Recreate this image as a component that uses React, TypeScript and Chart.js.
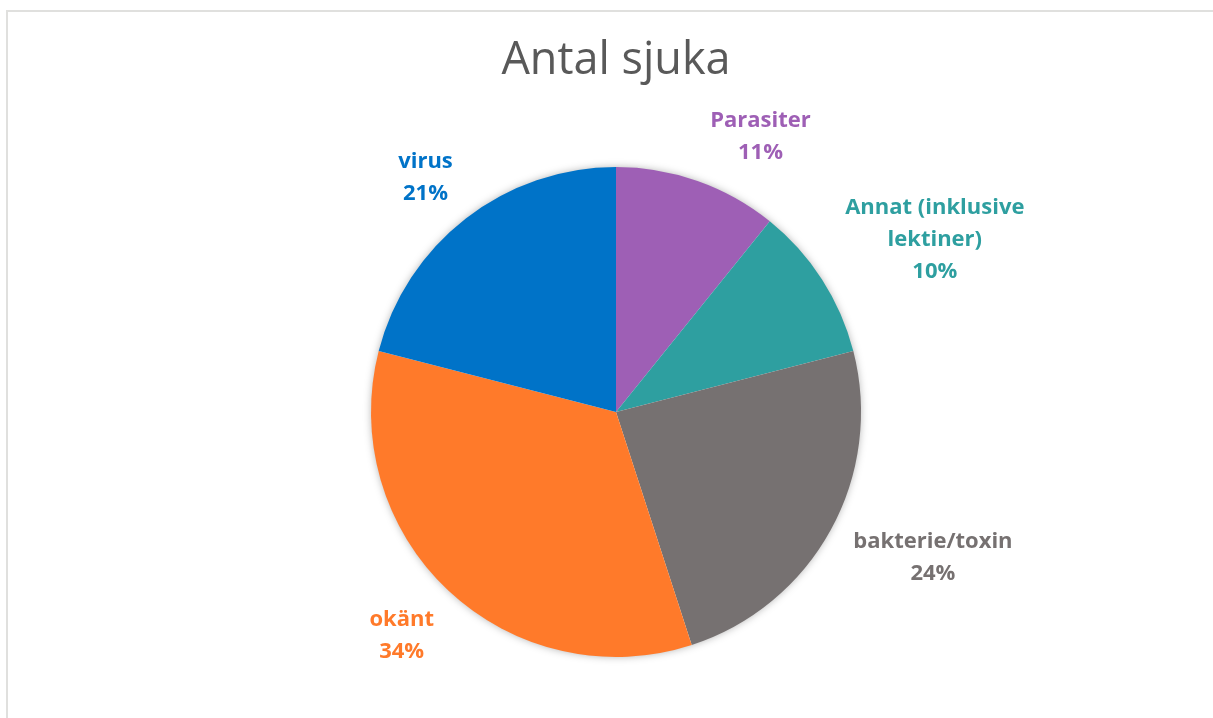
import React, { useEffect, useRef } from "react";
import { Chart, registerables } from "chart.js";

Chart.register(...registerables);

const categories = ["Parasiter", "Annat (inklusive lektiner)", "bakterie/toxin", "okänt", "virus"];
const shares = [10.8, 10.2, 24, 34, 21];
const sliceColors = ["#9E5FB5", "#2E9FA0", "#767171", "#FF7A2A", "#0073C8"];
const labelAngleNudgeDeg = [8, 4, -4.5, 1, -1];

const TITLE = "Antal sjuka";
const LABEL_FONT = 'bold 22px "Open Sans"';
const LINE_H = 32;
const LABEL_GAP = 17;
const TEXT_Y_SHIFT = 3;
const WRAP_WIDTH = 190;

function wrapText(ctx: CanvasRenderingContext2D, text: string, maxW: number): string[] {
  const words = text.split(" ");
  const lines: string[] = [];
  let cur = "";
  for (const w of words) {
    const test = cur ? cur + " " + w : w;
    if (cur && ctx.measureText(test).width > maxW) {
      lines.push(cur);
      cur = w;
    } else cur = test;
  }
  if (cur) lines.push(cur);
  return lines;
}

const framePlugin = {
  id: "frame",
  beforeDraw(chart: any) {
    const ctx: CanvasRenderingContext2D = chart.ctx;
    ctx.save();
    ctx.fillStyle = "#ffffff";
    ctx.fillRect(0, 0, chart.width, chart.height);
    ctx.strokeStyle = "#E0E0DE";
    ctx.lineWidth = 2;
    ctx.beginPath();
    ctx.moveTo(7, chart.height + 5);
    ctx.lineTo(7, 11);
    ctx.lineTo(chart.width + 5, 11);
    ctx.stroke();
    ctx.restore();
  },
};

const shadowPlugin = {
  id: "pieShadow",
  beforeDatasetsDraw(chart: any) {
    const meta = chart.getDatasetMeta(0);
    const arc = meta.data[0];
    if (!arc) return;
    const { x, y, outerRadius } = arc.getProps(["x", "y", "outerRadius"], true);
    const ctx = chart.ctx;
    ctx.save();
    ctx.shadowColor = "rgba(0,0,0,0.35)";
    ctx.shadowBlur = 8;
    ctx.shadowOffsetX = 0;
    ctx.shadowOffsetY = 0;
    ctx.fillStyle = "#ffffff";
    ctx.beginPath();
    ctx.arc(x, y, outerRadius - 1, 0, Math.PI * 2);
    ctx.fill();
    ctx.restore();
  },
};

const labelPlugin = {
  id: "outsideLabels",
  afterDatasetsDraw(chart: any) {
    const ctx: CanvasRenderingContext2D = chart.ctx;
    const meta = chart.getDatasetMeta(0);
    const data: number[] = chart.data.datasets[0].data;
    const total = data.reduce((a, b) => a + b, 0);
    ctx.save();
    ctx.font = LABEL_FONT;
    ctx.textAlign = "center";
    ctx.textBaseline = "middle";
    meta.data.forEach((el: any, i: number) => {
      const { x, y, startAngle, endAngle, outerRadius } = el.getProps(
        ["x", "y", "startAngle", "endAngle", "outerRadius"],
        true
      );
      const mid = (startAngle + endAngle) / 2 + (labelAngleNudgeDeg[i] * Math.PI) / 180;
      const lines = wrapText(ctx, chart.data.labels[i], WRAP_WIDTH);
      lines.push(Math.round((data[i] / total) * 100) + "%");
      const w = Math.max(...lines.map((l) => ctx.measureText(l).width));
      const h = lines.length * LINE_H;
      const dx = Math.cos(mid);
      const dy = Math.sin(mid);
      const support = Math.abs(dx) * (w / 2) + Math.abs(dy) * (h / 2);
      const d = outerRadius + LABEL_GAP + support;
      const cx = x + dx * d;
      const cy = y + dy * d + TEXT_Y_SHIFT;
      ctx.fillStyle = sliceColors[i];
      lines.forEach((l, k) => {
        ctx.fillText(l, cx, cy - h / 2 + LINE_H / 2 + k * LINE_H);
      });
    });
    ctx.restore();
  },
};

export default function App() {
  const canvasRef = useRef<HTMLCanvasElement | null>(null);

  useEffect(() => {
    document.body.style.margin = "0";
    document.body.style.overflow = "hidden";
    if (!canvasRef.current) return;
    const chart = new Chart(canvasRef.current, {
      type: "pie",
      data: {
        labels: categories,
        datasets: [
          {
            data: shares,
            backgroundColor: sliceColors,
            borderWidth: 0,
            hoverOffset: 0,
            offset: 0,
          },
        ],
      },
      options: {
        animation: false,
        responsive: false,
        events: [],
        layout: { padding: { left: 19, right: 0, top: 0, bottom: 61 } },
        plugins: {
          legend: { display: false },
          tooltip: { enabled: false },
          title: {
            display: true,
            text: TITLE,
            color: "#595959",
            font: { family: "Open Sans", size: 45, weight: "normal" as any, lineHeight: 1.2 },
            padding: { top: 34, bottom: 79 },
          },
        },
      },
      plugins: [framePlugin, shadowPlugin, labelPlugin],
    });
    return () => chart.destroy();
  }, []);

  return (
    <div style={{ width: 1213, height: 718, overflow: "hidden", background: "#ffffff" }}>
      <canvas
        ref={canvasRef}
        width={1213}
        height={718}
        style={{ width: 1213, height: 718, display: "block" }}
      />
    </div>
  );
}
